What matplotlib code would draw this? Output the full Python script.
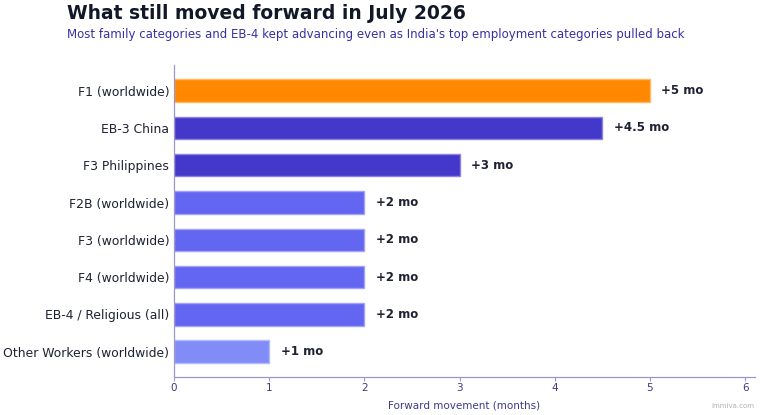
import matplotlib
matplotlib.use("Agg")
import matplotlib.pyplot as plt

categories = ["F1 (worldwide)", "EB-3 China", "F3 Philippines", "F2B (worldwide)",
              "F3 (worldwide)", "F4 (worldwide)", "EB-4 / Religious (all)", "Other Workers (worldwide)"]
values = [5, 4.5, 3, 2, 2, 2, 2, 1]
labels = ["+5 mo", "+4.5 mo", "+3 mo", "+2 mo", "+2 mo", "+2 mo", "+2 mo", "+1 mo"]
colors = ["#FF8800", "#4338CA", "#4338CA", "#6366F1", "#6366F1", "#6366F1", "#6366F1", "#818CF8"]
edges = ["#FFB866", "#8B84E0", "#8B84E0", "#A1A3F6", "#A1A3F6", "#A1A3F6", "#A1A3F6", "#B3BAFB"]

fig = plt.figure(figsize=(7.6, 4.15), dpi=100)
ax = fig.add_axes([0.229, 0.0916, 0.764, 0.751])
y = list(range(len(categories)))
ax.barh(y, values, height=0.6, color=colors, edgecolor=edges, linewidth=1)
ax.set_yticks(y)
ax.set_yticklabels(categories, fontsize=8.9, color="#1e2233")
ax.invert_yaxis()
ax.set_xlim(0, 6.1)
ax.set_xticks([0, 1, 2, 3, 4, 5, 6])
ax.tick_params(axis="x", labelsize=7.5, labelcolor="#3b3a8a", color="#9a98c8", length=3, pad=1.5)
ax.tick_params(axis="y", length=0, pad=3.5)
for s in ["top", "right"]:
    ax.spines[s].set_visible(False)
for s in ["left", "bottom"]:
    ax.spines[s].set_color("#9a98c8")
    ax.spines[s].set_linewidth(0.9)
for yi, v, lab in zip(y, values, labels):
    ax.text(v + 0.12, yi, lab, va="center", ha="left", fontsize=8.5, fontweight="bold", color="#1e2233")
ax.set_xlabel("Forward movement (months)", fontsize=7.5, color="#3b3a8a", labelpad=5)

fig.text(0.088, 0.968, "What still moved forward in July 2026", fontsize=13.5, fontweight="bold",
         color="#111827", va="center", ha="left")
fig.text(0.088, 0.918, "Most family categories and EB-4 kept advancing even as India's top employment categories pulled back",
         fontsize=8.5, color="#3730a3", va="center", ha="left")
fig.text(0.992, 0.015, "immiva.com", fontsize=5, color="#b0b0b0", ha="right", va="bottom")
fig.savefig("out.png", dpi=100)
